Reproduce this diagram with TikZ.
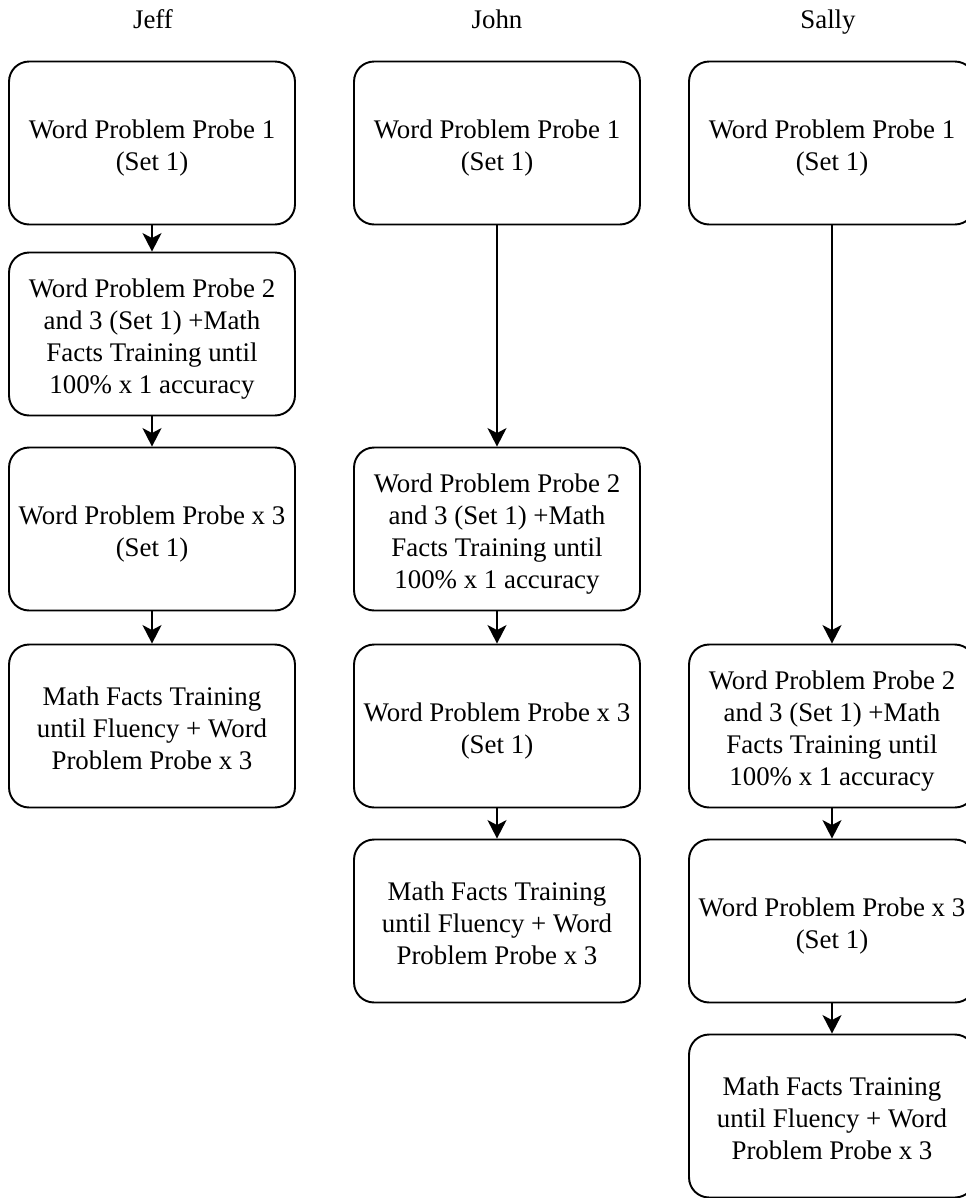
\documentclass[tikz,border=0pt]{standalone}
\usepackage{fontspec}
\setmainfont{Liberation Serif}
\usetikzlibrary{arrows.meta}
\tikzset{
  stepbox/.style={draw, line width=1.1pt, rounded corners=0.4cm,
    minimum width=5.72cm, minimum height=3.26cm, inner sep=0pt,
    text width=5.6cm, align=flush center, font=\fontsize{15.3}{18.3}\selectfont,
    text height=0.653cm, execute at end node={\strut}},
  head/.style={anchor=base, font=\fontsize{15.3}{18}\selectfont},
  flow/.style={line width=1.1pt, -{Stealth[length=0.37cm,width=0.38cm,inset=0.1cm]}}
}
\begin{document}
\begin{tikzpicture}[x=0.02cm, y=-0.02cm]
      \useasboundingbox (0,0) rectangle (966,1198);
      \draw
        (153,28) node[head] (jeff){Jeff}
        (497,28) node[head] (john){John}
        (828,28) node[head] (sally){Sally};
      \draw
        (152,143) node[stepbox] (j1){Word Problem Probe 1\\(Set 1)}
        (152,334) node[stepbox] (j2){Word Problem Probe 2\\and 3 (Set 1) +Math\\Facts Training until\\100\% x 1 accuracy}
        (152,529) node[stepbox] (j3){Word Problem Probe x 3\\(Set 1)}
        (152,726) node[stepbox] (j4){Math Facts Training\\until Fluency + Word\\Problem Probe x 3}
        (497,143) node[stepbox] (o1){Word Problem Probe 1\\(Set 1)}
        (497,529) node[stepbox] (o2){Word Problem Probe 2\\and 3 (Set 1) +Math\\Facts Training until\\100\% x 1 accuracy}
        (497,726) node[stepbox] (o3){Word Problem Probe x 3\\(Set 1)}
        (497,921) node[stepbox] (o4){Math Facts Training\\until Fluency + Word\\Problem Probe x 3}
        (832,143) node[stepbox] (s1){Word Problem Probe 1\\(Set 1)}
        (832,726) node[stepbox] (s2){Word Problem Probe 2\\and 3 (Set 1) +Math\\Facts Training until\\100\% x 1 accuracy}
        (832,921) node[stepbox] (s3){Word Problem Probe x 3\\(Set 1)}
        (832,1116) node[stepbox] (s4){Math Facts Training\\until Fluency + Word\\Problem Probe x 3};
      \begin{scope}[flow]
        \draw (j1) to (j2);
        \draw (j2) to (j3);
        \draw (j3) to (j4);
        \draw (o1) to (o2);
        \draw (o2) to (o3);
        \draw (o3) to (o4);
        \draw (s1) to (s2);
        \draw (s2) to (s3);
        \draw (s3) to (s4);
      \end{scope}
    \end{tikzpicture}
\end{document}
